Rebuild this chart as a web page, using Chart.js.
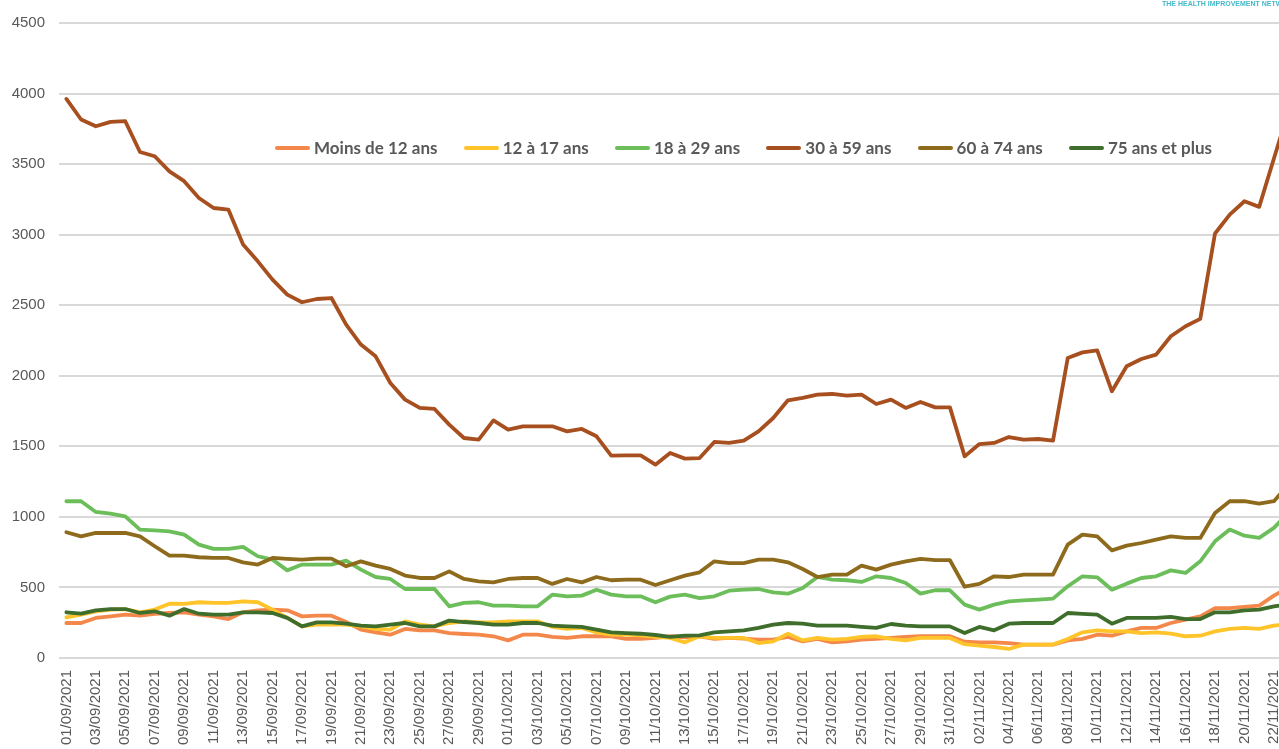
<!DOCTYPE html>
<html lang="fr">
<head>
<meta charset="utf-8">
<title>Cas par tranche d'âge</title>
<script src="https://cdn.jsdelivr.net/npm/chart.js@4.4.1/dist/chart.umd.min.js"></script>
<style>
  html, body { margin: 0; padding: 0; background: #fff; overflow: hidden; }
  #cadre { position: relative; width: 1296px; height: 749px; }
  #legende {
    position: absolute; left: 275px; top: 137px; width: 937px;
    display: flex; justify-content: space-between;
    font: 700 17px Lato, sans-serif; color: #595959;
  }
  .item { display: flex; align-items: center; white-space: nowrap; }
  .trait { width: 35px; height: 4px; border-radius: 2px; margin-right: 4px; }
  #source {
    position: absolute; left: 1162px; top: 0px;
    font: 700 7px 'Liberation Sans', sans-serif; color: #45b8c9; white-space: nowrap;
  }
</style>
</head>
<body>
<div id="cadre">
  <canvas id="grafico" width="1296" height="749"></canvas>
  <div id="legende"></div>
  <div id="source">THE HEALTH IMPROVEMENT NETWORK</div>
</div>
<script>
const dates = [
  '01/09/2021', '02/09/2021', '03/09/2021', '04/09/2021', '05/09/2021', '06/09/2021', '07/09/2021', '08/09/2021', '09/09/2021', '10/09/2021',
  '11/09/2021', '12/09/2021', '13/09/2021', '14/09/2021', '15/09/2021', '16/09/2021', '17/09/2021', '18/09/2021', '19/09/2021', '20/09/2021',
  '21/09/2021', '22/09/2021', '23/09/2021', '24/09/2021', '25/09/2021', '26/09/2021', '27/09/2021', '28/09/2021', '29/09/2021', '30/09/2021',
  '01/10/2021', '02/10/2021', '03/10/2021', '04/10/2021', '05/10/2021', '06/10/2021', '07/10/2021', '08/10/2021', '09/10/2021', '10/10/2021',
  '11/10/2021', '12/10/2021', '13/10/2021', '14/10/2021', '15/10/2021', '16/10/2021', '17/10/2021', '18/10/2021', '19/10/2021', '20/10/2021',
  '21/10/2021', '22/10/2021', '23/10/2021', '24/10/2021', '25/10/2021', '26/10/2021', '27/10/2021', '28/10/2021', '29/10/2021', '30/10/2021',
  '31/10/2021', '01/11/2021', '02/11/2021', '03/11/2021', '04/11/2021', '05/11/2021', '06/11/2021', '07/11/2021', '08/11/2021', '09/11/2021',
  '10/11/2021', '11/11/2021', '12/11/2021', '13/11/2021', '14/11/2021', '15/11/2021', '16/11/2021', '17/11/2021', '18/11/2021', '19/11/2021',
  '20/11/2021', '21/11/2021', '22/11/2021', '23/11/2021'
];

const moinsDe12 = [
  248, 248, 284, 295, 307, 300, 312, 319, 324, 307, 295, 276, 324, 338, 343, 338, 295, 300, 300, 255,
  201, 182, 165, 206, 196, 196, 177, 170, 165, 154, 125, 165, 165, 149, 142, 154, 154, 154, 135, 135,
  142, 154, 147, 154, 135, 142, 137, 130, 130, 149, 118, 135, 111, 118, 130, 135, 142, 149, 154, 154,
  154, 115, 111, 111, 106, 95, 95, 95, 125, 135, 165, 158, 189, 213, 213, 248, 272, 295, 354, 354,
  362, 371, 442, 500
];

const de12a17 = [
  288, 307, 331, 343, 347, 324, 343, 385, 383, 395, 390, 390, 402, 395, 343, 284, 224, 236, 236, 236,
  224, 206, 201, 260, 236, 224, 248, 260, 253, 253, 260, 260, 260, 220, 206, 213, 182, 165, 165, 161,
  149, 142, 111, 154, 142, 142, 142, 106, 118, 172, 125, 142, 130, 135, 149, 154, 135, 125, 142, 142,
  142, 98, 87, 78, 64, 95, 95, 95, 135, 182, 196, 189, 189, 177, 182, 172, 154, 158, 189, 206,
  213, 206, 229, 240
];

const de18a29 = [
  1111, 1111, 1035, 1023, 1004, 910, 905, 898, 874, 803, 773, 773, 787, 721, 697, 621, 662, 662, 662, 690,
  626, 574, 560, 489, 489, 489, 366, 390, 395, 371, 371, 366, 366, 449, 437, 442, 484, 449, 437, 437,
  395, 435, 449, 425, 437, 477, 484, 489, 465, 456, 496, 574, 555, 551, 539, 579, 567, 532, 456, 480,
  480, 378, 343, 378, 402, 409, 414, 421, 508, 579, 572, 484, 527, 567, 579, 621, 603, 685, 827, 910,
  867, 851, 922, 1030
];

const de30a59 = [
  3962, 3816, 3768, 3799, 3804, 3586, 3556, 3449, 3379, 3260, 3189, 3178, 2930, 2811, 2681, 2575, 2521, 2544, 2551, 2362,
  2221, 2138, 1949, 1831, 1772, 1765, 1654, 1559, 1547, 1684, 1618, 1642, 1642, 1642, 1606, 1623, 1571, 1434, 1436, 1436,
  1370, 1453, 1413, 1417, 1531, 1524, 1540, 1606, 1701, 1826, 1843, 1866, 1871, 1859, 1866, 1800, 1831, 1772, 1814, 1776,
  1776, 1429, 1516, 1524, 1566, 1547, 1552, 1540, 2126, 2166, 2180, 1890, 2067, 2119, 2150, 2280, 2351, 2403, 3008, 3142,
  3237, 3197, 3540, 3880
];

const de60a74 = [
  891, 862, 886, 886, 886, 862, 792, 725, 725, 714, 709, 709, 678, 662, 709, 702, 697, 704, 704, 650,
  685, 655, 631, 584, 567, 567, 614, 560, 543, 536, 560, 567, 567, 525, 560, 536, 574, 551, 555, 555,
  517, 551, 584, 607, 685, 673, 673, 697, 697, 678, 631, 574, 591, 591, 655, 626, 662, 685, 702, 693,
  693, 505, 525, 579, 574, 591, 591, 591, 803, 874, 862, 763, 796, 815, 839, 862, 851, 851, 1028, 1111,
  1111, 1094, 1111, 1230
];

const plusDe75 = [
  324, 314, 338, 347, 347, 319, 331, 300, 347, 314, 307, 307, 324, 324, 319, 284, 224, 253, 253, 243,
  229, 224, 236, 248, 224, 224, 265, 255, 248, 236, 236, 248, 248, 229, 224, 220, 201, 182, 177, 172,
  163, 149, 158, 161, 182, 189, 196, 213, 236, 248, 243, 229, 229, 229, 220, 213, 241, 229, 224, 224,
  224, 177, 220, 196, 243, 248, 248, 248, 319, 312, 307, 243, 284, 284, 284, 291, 276, 276, 324, 324,
  338, 343, 366, 380
];

const nomsSeries = ['Moins de 12 ans', '12 à 17 ans', '18 à 29 ans', '30 à 59 ans', '60 à 74 ans', '75 ans et plus'];
const valeursSeries = [moinsDe12, de12a17, de18a29, de30a59, de60a74, plusDe75];
const couleurs = ['#F4874A', '#FFC42A', '#6CBE5A', '#A74F1F', '#8E6B1C', '#3F6E2C'];

const yMin = 0;
const yMax = 4500;
const yPas = 500;

function montarLegenda() {
  const legende = document.getElementById('legende');
  nomsSeries.forEach((nom, i) => {
    const item = document.createElement('div');
    item.className = 'item';
    const trait = document.createElement('span');
    trait.className = 'trait';
    trait.style.background = couleurs[i];
    const texte = document.createElement('span');
    texte.textContent = nom;
    item.appendChild(trait);
    item.appendChild(texte);
    legende.appendChild(item);
  });
}

function gerarGrafico() {
  // les dernières séries sont dessinées par-dessus, comme dans Excel
  const datasets = nomsSeries.map((nom, i) => ({
    label: nom,
    data: valeursSeries[i],
    borderColor: couleurs[i],
    backgroundColor: couleurs[i],
    order: nomsSeries.length - i,
    fill: false
  }));

  const ctx = document.getElementById('grafico').getContext('2d');
  new Chart(ctx, {
    type: 'line',
    data: { labels: dates, datasets },
    options: {
      responsive: false,
      animation: false,
      layout: { padding: { top: 23, right: 0, bottom: 0, left: 0 } },
      plugins: {
        legend: { display: false },
        tooltip: { enabled: false }
      },
      elements: {
        point: { radius: 0 },
        line: { borderWidth: 3.8, tension: 0, borderJoinStyle: 'round', borderCapStyle: 'round' }
      },
      scales: {
        x: {
          offset: true,
          grid: { display: false, drawTicks: false },
          border: { display: false },
          ticks: {
            autoSkip: false,
            minRotation: 90,
            maxRotation: 90,
            padding: 12,
            color: '#595959',
            font: { family: 'Liberation Sans', size: 15 },
            callback: function (value, index) {
              return index % 2 === 0 ? this.getLabelForValue(value) : '';
            }
          },
          afterFit: (scale) => {
            scale.height = 91;
            // le graphique d'origine est coupé à droite : pas de marge pour la dernière étiquette
            scale.paddingLeft = 0;
            scale.paddingRight = 0;
          }
        },
        y: {
          min: yMin,
          max: yMax,
          grid: { color: '#D9D9D9', lineWidth: 2, drawTicks: false },
          border: { display: false },
          ticks: {
            stepSize: yPas,
            padding: 14,
            color: '#595959',
            font: { family: 'Liberation Sans', size: 15 },
            callback: (valeur) => String(valeur)
          },
          afterFit: (scale) => { scale.width = 59; }
        }
      }
    }
  });
}

montarLegenda();
gerarGrafico();
</script>
</body>
</html>
